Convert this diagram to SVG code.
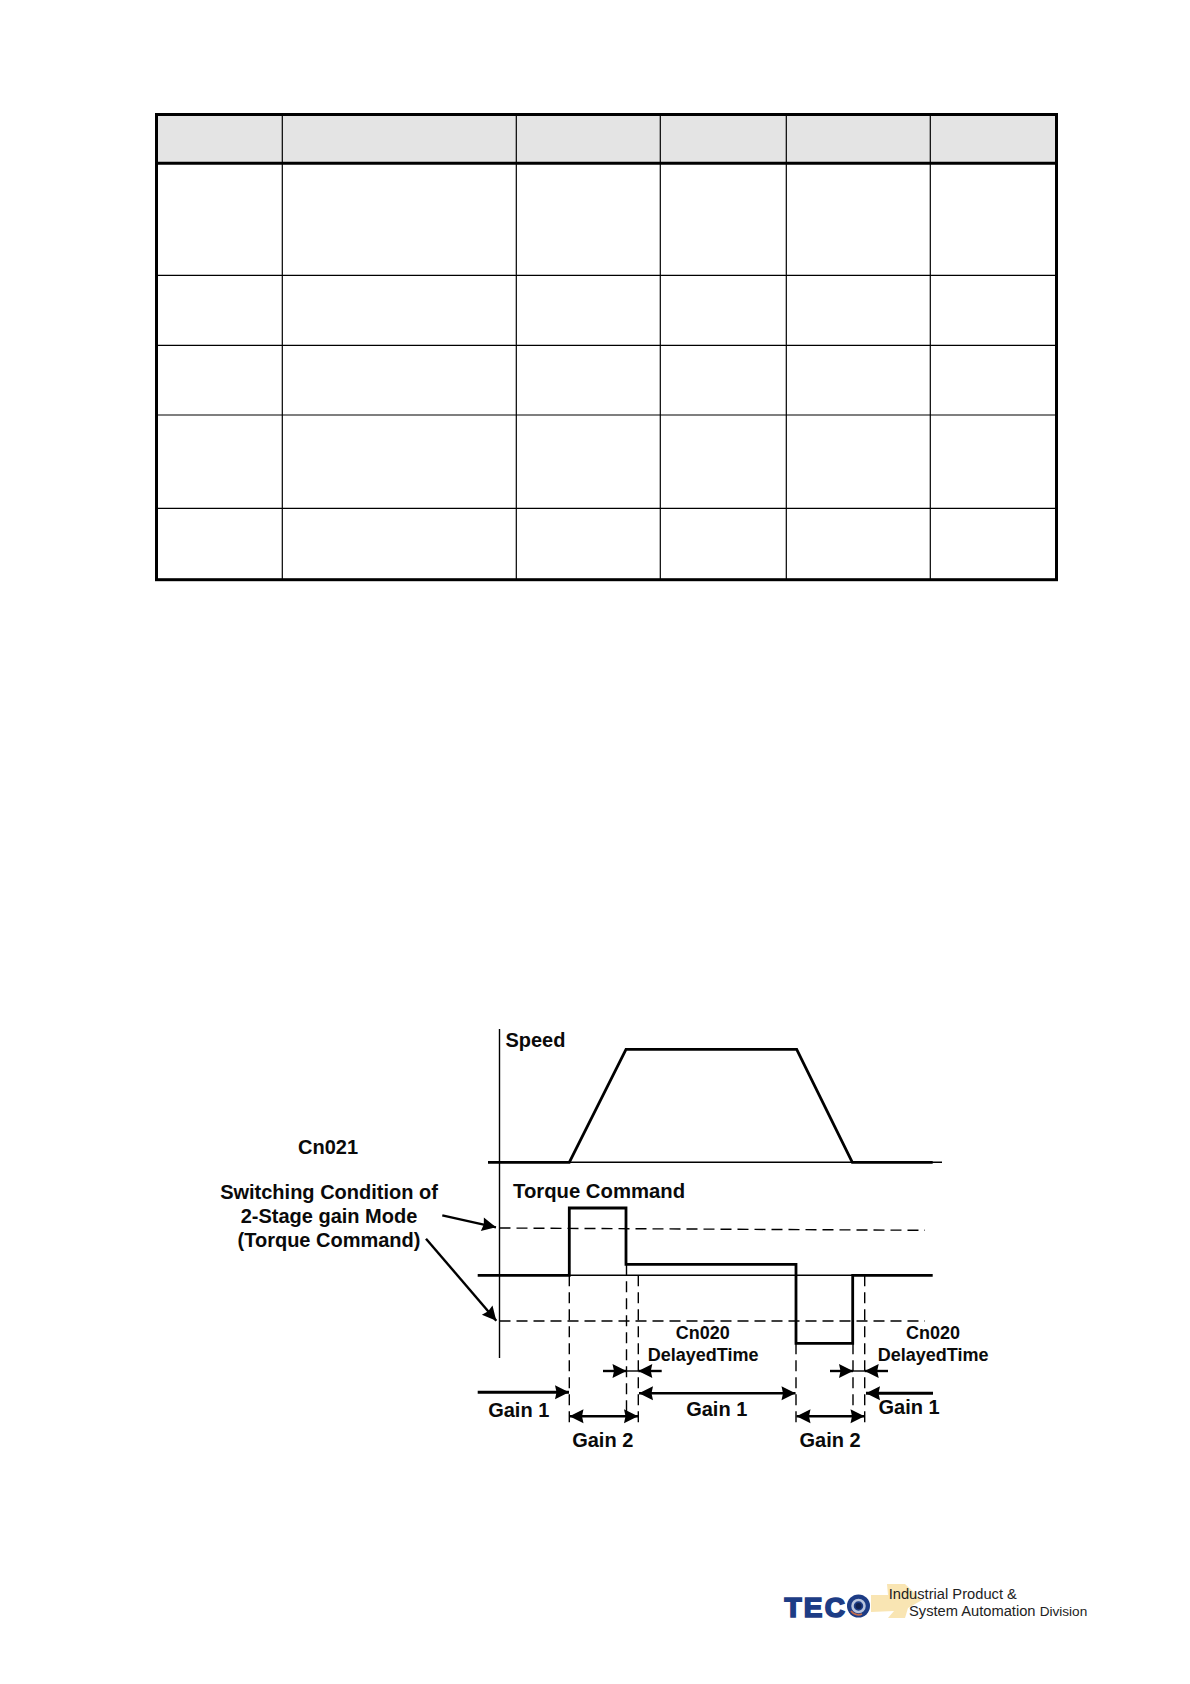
<svg xmlns="http://www.w3.org/2000/svg" width="1190" height="1684" viewBox="0 0 1190 1684">
<style>
.l{font-family:"Liberation Sans",Arial,sans-serif;font-weight:700;font-size:20px;fill:#0a0a0a}
.m{text-anchor:middle}
.d{font-size:18px}
.t{font-family:"Liberation Sans",Arial,sans-serif;font-size:14.7px;fill:#222}
.g{fill:none;stroke:#000;stroke-width:1.2}
.o{fill:none;stroke:#000;stroke-width:3}
.th{fill:none;stroke:#000;stroke-width:1.4}
.tk{fill:none;stroke:#000;stroke-width:2.8;stroke-linejoin:miter}
.ds{fill:none;stroke:#000;stroke-width:1.4;stroke-dasharray:11 6}
.ar{fill:none;stroke:#000;stroke-width:2.4}
.ae{marker-end:url(#ah)}
.as{marker-start:url(#as)}
</style>
<defs>
<marker id="ah" markerUnits="userSpaceOnUse" markerWidth="18" markerHeight="18" refX="15" refY="9" orient="auto"><path d="M15,9 L1,2 L2.5,9 L1,16 Z" fill="#000"/></marker>
<marker id="as" markerUnits="userSpaceOnUse" markerWidth="18" markerHeight="18" refX="3" refY="9" orient="auto"><path d="M3,9 L17,2 L15.5,9 L17,16 Z" fill="#000"/></marker>
</defs>
<rect width="1190" height="1684" fill="#fff"/>
<g id="table">
<rect x="156.5" y="114.5" width="900" height="48.8" fill="#e4e4e4"/>
<path class="g" d="M282.3 114.5V579.7M516.3 114.5V579.7M660.3 114.5V579.7M786.3 114.5V579.7M930.3 114.5V579.7M156.5 275.3H1056.5M156.5 345.3H1056.5M156.5 415H1056.5M156.5 508.3H1056.5"/>
<path class="o" d="M156.5 163.3H1056.5"/>
<rect class="o" x="156.5" y="114.5" width="900" height="465.2"/>
</g>
<g id="speed-chart">
<path class="th" d="M499.5 1029V1358"/>
<path class="th" d="M488 1162.3H942"/>
<path class="tk" d="M488 1162.3H569.3L626 1049.3H796.7L852.3 1162.3H932.7"/>
<text class="l" x="505.4" y="1046.7">Speed</text>
</g>
<g id="torque-chart">
<path class="th" d="M569 1275.3H853"/>
<path class="ds" d="M499.5 1228L925 1230.3"/>
<path class="ds" d="M499.5 1321H925"/>
<path class="tk" d="M477.7 1275.3H569.3V1208H626V1264.3H796V1343.3H852.7V1275.3H932.7"/>
<text class="l" x="513" y="1197.5" style="font-size:20.3px">Torque Command</text>
</g>
<g id="timing-guides">
<path class="ds" d="M569.3 1275.3V1423"/>
<path class="ds" d="M626.5 1264.3V1411"/>
<path class="ds" d="M638.3 1275.3V1423"/>
<path class="ds" d="M796 1343.3V1423"/>
<path class="ds" d="M853 1343.3V1411"/>
<path class="ds" d="M864.7 1275.3V1423"/>
</g>
<g id="connectors">
<path class="ar ae" d="M442.3 1215.3L496 1227.3"/>
<path class="ar ae" d="M426 1238.7L496.3 1320.7"/>
<path class="ar ae" d="M603 1371H626.5"/>
<path class="th" d="M626.5 1371H638.3"/>
<path class="ar ae" d="M661.7 1371H638.3"/>
<path class="ar ae" d="M830 1371H853"/>
<path class="th" d="M853 1371H864.7"/>
<path class="ar ae" d="M888 1371H864.7"/>
<path class="ar ae" style="stroke-width:3" d="M477.7 1392.3H569"/>
<path class="ar ae as" d="M569.5 1416.3H638"/>
<path class="ar ae as" d="M639 1393.3H795.5"/>
<path class="ar ae as" d="M796.5 1416.3H864.5"/>
<path class="ar ae" style="stroke-width:3" d="M933 1393.3H866"/>
</g>
<g id="label-cn021"><text class="l m" x="328" y="1154.2">Cn021</text></g>
<g id="label-switching">
<text class="l m" x="329" y="1198.8">Switching Condition of</text>
<text class="l m" x="329" y="1222.8">2-Stage gain Mode</text>
<text class="l m" x="329" y="1246.8">(Torque Command)</text>
</g>
<g id="label-delay-1">
<text class="l m d" x="702.7" y="1339.3">Cn020</text>
<text class="l m d" x="703.2" y="1361">DelayedTime</text>
</g>
<g id="label-delay-2">
<text class="l m d" x="933" y="1339.3">Cn020</text>
<text class="l m d" x="933.2" y="1361">DelayedTime</text>
</g>
<g id="gain-labels">
<text class="l" x="488.2" y="1416.6">Gain 1</text>
<text class="l" x="572.2" y="1447.3">Gain 2</text>
<text class="l" x="686.2" y="1416">Gain 1</text>
<text class="l" x="799.5" y="1447.3">Gain 2</text>
<text class="l" x="878.5" y="1414.3">Gain 1</text>
</g>
<g id="logo">
<path d="M871 1595H888L887 1584H905L922 1600L908 1608L905 1618H888L894 1611L871 1612Z" fill="#f9e5b3"/>
<text x="784.5" y="1617" style="font-family:'Liberation Sans',Arial,sans-serif;font-weight:700;font-size:28px;letter-spacing:2.2px;fill:#1d3c85;stroke:#1d3c85;stroke-width:1.7">TEC</text>
<circle cx="858.5" cy="1606" r="11.5" fill="#1d3c85"/>
<circle cx="858.5" cy="1606" r="6" fill="none" stroke="#b9c4dc" stroke-width="2.5"/>
<path d="M851 1611A9 9 0 0 0 862 1614" fill="none" stroke="#c46a4a" stroke-width="1.8"/>
<circle cx="858.5" cy="1606" r="3" fill="#10204f"/>
<text class="t" x="888.7" y="1599">Industrial Product &amp;</text>
<text class="t" x="909" y="1615.7">System Automation <tspan style="font-size:13.6px">Division</tspan></text>
</g>
</svg>
